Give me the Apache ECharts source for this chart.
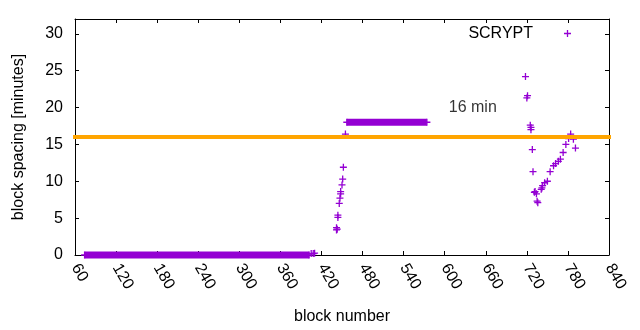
<!DOCTYPE html>
<html>
<head>
<meta charset="utf-8">
<title>block spacing</title>
<script src="https://cdn.jsdelivr.net/npm/echarts@6/dist/echarts.min.js"></script>
<style>
  html, body { margin: 0; padding: 0; background: #fff; }
  #chart { width: 640px; height: 330px; }
</style>
</head>
<body>
<div id="chart"></div>
<script>
// runs of consecutive blocks with the same spacing (drawn as a solid band of markers)
const zeroRun = [[74, 0], [402, 0]];
const plateauRun = [[457, 18], [574, 18]];

// single blocks: block number and spacing in minutes
const blockNums = [
  405, 408, 410,
  442, 442, 443, 444, 444, 446, 447, 448, 448, 450, 451, 452, 455,
  718, 720, 721, 725, 726, 726, 728, 729, 731, 732, 734, 735, 736,
  741, 742, 743, 746, 750, 754, 759, 762, 766, 769, 773, 777, 781, 784, 788, 791
];
const spacing = [
  0.2, 0.2, 0.25,
  3.4, 3.7, 3.5, 5.1, 5.4, 7.0, 7.7, 8.3, 8.6, 9.5, 10.3, 11.9, 16.4,
  24.2, 21.3, 21.6, 17.6, 17.3, 17.0, 14.3, 11.3, 8.5, 8.6, 8.3, 7.3, 7.1,
  8.9, 9.1, 9.4, 9.8, 10.0, 11.3, 12.1, 12.4, 12.7, 13.0, 13.9, 15.0, 15.8, 16.4, 15.7, 14.5
];

// target spacing line and its note
const targetLine = [[60, 16], [840, 16]];
const targetNote = [[606, 20]];
const targetText = '16 min';

const xTicks = { min: 60, max: 840, step: 60 };
const yTicks = { min: 0, max: 32, step: 5 };

const purple = '#9400d3';
const orange = '#ffa500';
const font = "'Liberation Sans', Arial, sans-serif";
const plus = 'path://M0,2.85L7,2.85L7,4.15L0,4.15Z M2.85,0L4.15,0L4.15,7L2.85,7Z';

const points = blockNums.map((b, i) => [b, spacing[i]]);

const chart = echarts.init(document.getElementById('chart'));

const frameAxis = {
  axisLine: { show: true, onZero: false, lineStyle: { color: '#000', width: 1 } },
  axisTick: { show: true, inside: true, length: 4, lineStyle: { color: '#000' } },
  splitLine: { show: false },
};

chart.setOption({
  animation: false,
  grid: { left: 75, right: 31, top: 19, bottom: 74 },
  legend: {
    data: ['SCRYPT'],
    right: 69,
    top: 25.5,
    padding: 0,
    align: 'right',
    itemWidth: 7,
    itemHeight: 7,
    icon: plus,
    textStyle: { fontSize: 16, fontFamily: font, color: '#000', padding: [0, 26, 0, 0], lineHeight: 16 },
  },
  xAxis: [
    Object.assign({}, frameAxis, {
      type: 'value',
      min: xTicks.min, max: xTicks.max, interval: xTicks.step,
      name: 'block number',
      nameLocation: 'middle',
      nameGap: 54,
      nameTextStyle: { fontSize: 16, fontFamily: font, color: '#000' },
      axisLabel: { rotate: -60, margin: 10, fontSize: 16, fontFamily: font, color: '#000', interval: 0 },
    }),
    Object.assign({}, frameAxis, {
      type: 'value', position: 'top',
      min: xTicks.min, max: xTicks.max, interval: xTicks.step,
      axisLabel: { show: false },
    }),
  ],
  yAxis: [
    Object.assign({}, frameAxis, {
      type: 'value',
      min: yTicks.min, max: yTicks.max, interval: yTicks.step,
      name: 'block spacing [minutes]',
      nameLocation: 'middle',
      nameRotate: 90,
      nameGap: 48,
      nameTextStyle: { fontSize: 16, fontFamily: font, color: '#000' },
      axisLabel: { margin: 12, fontSize: 16, fontFamily: font, color: '#000', showMaxLabel: false },
    }),
    Object.assign({}, frameAxis, {
      type: 'value', position: 'right',
      min: yTicks.min, max: yTicks.max, interval: yTicks.step,
      axisLabel: { show: false },
    }),
  ],
  series: [
    {
      name: 'zeros',
      type: 'line',
      data: zeroRun,
      symbol: plus, symbolSize: 7, showSymbol: true,
      itemStyle: { color: purple },
      lineStyle: { color: purple, width: 7 },
      clip: false, z: 2,
    },
    {
      name: 'plateau',
      type: 'line',
      data: plateauRun,
      symbol: plus, symbolSize: 7, showSymbol: true,
      itemStyle: { color: purple },
      lineStyle: { color: purple, width: 7 },
      clip: false, z: 2,
    },
    {
      name: 'SCRYPT',
      type: 'scatter',
      data: points,
      symbol: plus, symbolSize: 7,
      itemStyle: { color: purple, opacity: 1 },
      z: 3,
    },
    {
      name: 'target',
      type: 'line',
      data: targetLine,
      symbol: 'none',
      lineStyle: { color: orange, width: 4, cap: 'square' },
      clip: false, z: 4,
    },
    {
      name: 'note',
      type: 'scatter',
      data: targetNote,
      symbolSize: 0,
      label: {
        show: true, position: 'right', distance: 0,
        formatter: targetText,
        fontSize: 16, fontFamily: font, color: '#000',
      },
      z: 5,
    },
  ],
});
</script>
</body>
</html>
